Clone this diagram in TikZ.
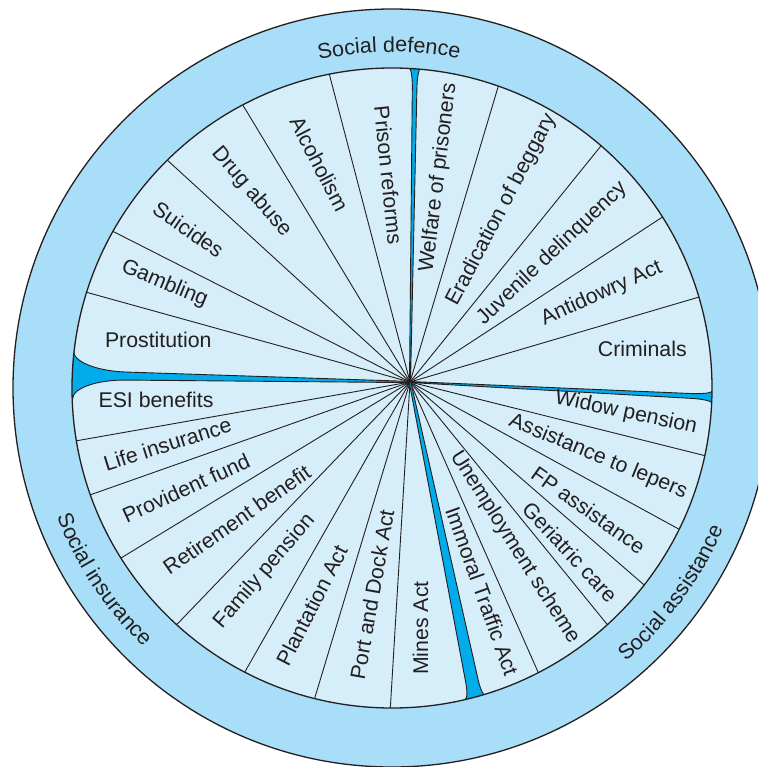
\documentclass[tikz,border=0pt]{standalone}
\usepackage{fontspec}
\setmainfont{Liberation Sans}
\usetikzlibrary{calc,decorations.text}
\definecolor{ringblue}{RGB}{168,222,247}
\definecolor{sectorblue}{RGB}{214,237,250}
\definecolor{sepblue}{RGB}{0,172,234}
\definecolor{ink}{RGB}{35,31,32}
\newcommand\ringfont{\fontsize{21.5}{24}\selectfont}
% separator wedge: angle, length, w0, w1, d, f
\newcommand\sepwedge[6]{%
  \begin{scope}[shift={(H)}, rotate=#1]
    \filldraw[fill=sepblue, draw=ink, line width=0.9]
      (0,#3) -- ({#2-#5},#4)
      .. controls ({#2-#5+0.552*#5},#4) and (#2,{#6-0.552*(#6-#4)}) .. (#2,#6)
      -- ({#2+15},#6) -- ({#2+15},-#6) -- (#2,-#6)
      .. controls (#2,{-#6+0.552*(#6-#4)}) and ({#2-#5+0.552*#5},-#4) .. ({#2-#5},-#4)
      -- (0,-#3) -- cycle;
  \end{scope}}
\begin{document}
\begin{tikzpicture}[x=1pt,y=1pt,
  lbl/.style={font=\fontsize{21.3}{24}\selectfont, text=ink, inner sep=0pt},
  spoke/.style={draw=ink, line width=0.9},
  rim/.style={draw=ink, line width=1.3}]
\useasboundingbox (0,0) rectangle (758,-767);
\clip (0,0) rectangle (758,-767);
\coordinate (C) at (392,-388);
\coordinate (H) at (410,-382);
% rings
\fill[ringblue] (C) circle[radius=379];
\draw[rim] (C) circle[radius=379];
\fill[sectorblue] (C) circle[radius=320];
% spoke end points on the inner circle
\foreach \n/\a in {s1/70.6, s2/49.2, s3/32.3, s4/16.5, s6/-12.2, s7/-26.2,
  s8/-38.0, s9/-47.7, s10/-62.8, s12/-90.3, s13/-104.0, s14/-117.4,
  s15/-132.3, s16/-147.9, s17/-160.5, s18/-170.5, s20/162.6, s21/150.7,
  s22/134.6, s23/117.8, s24/101.3}
  {\coordinate (\n) at ($(C)+(\a:320)$);}
\foreach \n in {s1,s2,s3,s4,s6,s7,s8,s9,s10,s12,s13,s14,s15,s16,s17,s18,s20,s21,s22,s23,s24}
  {\draw[spoke] (H) -- (\n);}
% blue separators
\begin{scope}
  \clip (C) circle[radius=320];
  \sepwedge{89.1}{314}{0.5}{2.3}{20}{6}
  \sepwedge{-2.84}{302.4}{0.5}{2.4}{22}{6}
  \sepwedge{-78.3}{321.6}{0.8}{6.3}{18}{10}
  \sepwedge{178.8}{337.1}{0.6}{4}{55}{24}
\end{scope}
\draw[rim] (C) circle[radius=320];
% ring labels
\path[decorate, decoration={text along path, text align=center, text color=ink,
  text={|\ringfont|Social defence}}]
  ($(C)+(125.5:336)$) arc[start angle=125.5, end angle=55.5, radius=336];
\path[decorate, decoration={text along path, text align=center, text color=ink,
  text={|\ringfont|Social insurance}}]
  ($(C)+(173.6:359)$) arc[start angle=173.6, end angle=253.6, radius=359];
\path[decorate, decoration={text along path, text align=center, text color=ink,
  text={|\ringfont|Social assistance}}]
  ($(C)+(-76.3:360)$) arc[start angle=-76.3, end angle=3.7, radius=360];
% sector labels
\node[lbl, rotate=83] (welfare) at (438.6,-177.6) {Welfare of prisoners};
\node[lbl, rotate=62.3] (beggary) at (501.5,-210) {Eradication of beggary};
\node[lbl, rotate=43.5] (juvenile) at (552,-253.5) {Juvenile delinquency};
\node[lbl, rotate=24.4] (antidowry) at (601.7,-293.5) {Antidowry Act};
\node[lbl] (criminals) at (642.3,-349) {Criminals};
\node[lbl, rotate=-12] (widow) at (626,-413) {Widow pension};
\node[lbl, rotate=-22.4] (lepers) at (598,-456.8) {Assistance to lepers};
\node[lbl, rotate=-35.4] (fp) at (588.5,-510) {FP assistance};
\node[lbl, rotate=-47.2] (geriatric) at (570,-552) {Geriatric care};
\node[lbl, rotate=-57.6] (unemployment) at (514.7,-547.5) {Unemployment scheme};
\node[lbl, rotate=-70.2] (immoral) at (482,-591) {Immoral Traffic Act};
\node[lbl, rotate=90] (mines) at (420.5,-628) {Mines Act};
\node[lbl, rotate=80] (port) at (372,-594.4) {Port and Dock Act};
\node[lbl, rotate=62.9] (plantation) at (311.7,-605.5) {Plantation Act};
\node[lbl, rotate=49.4] (family) at (264.5,-571.5) {Family pension};
\node[lbl, rotate=34.9] (retirement) at (236.7,-519.7) {Retirement benefit};
\node[lbl, rotate=24.7] (provident) at (186,-488) {Provident fund};
\node[lbl, rotate=17.5] (life) at (167.5,-444) {Life insurance};
\node[lbl] (esi) at (156,-400) {ESI benefits};
\node[lbl] (prostitution) at (158.3,-339.8) {Prostitution};
\node[lbl, rotate=-22.5] (gambling) at (164.5,-284) {Gambling};
\node[lbl, rotate=-34.8] (suicides) at (188.5,-229.6) {Suicides};
\node[lbl, rotate=-49.3] (drug) at (251.3,-192) {Drug abuse};
\node[lbl, rotate=-62.7] (alcoholism) at (319.4,-164) {Alcoholism};
\node[lbl, rotate=-84.2] (prison) at (388.6,-175) {Prison reforms};
\end{tikzpicture}
\end{document}
